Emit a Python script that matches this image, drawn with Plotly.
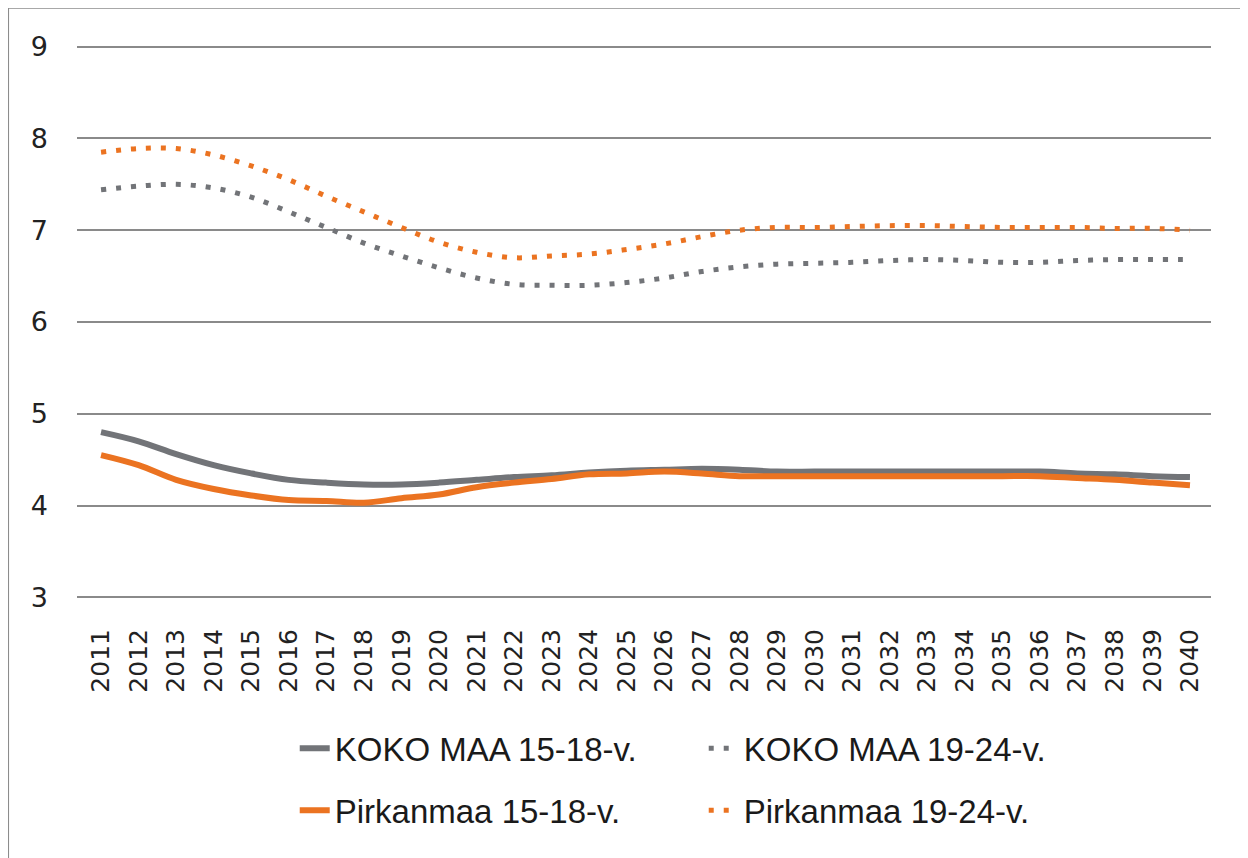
import plotly.graph_objects as go

years = [str(y) for y in range(2011, 2041)]

koko_15_18 = [4.80, 4.70, 4.56, 4.44, 4.35, 4.28, 4.25, 4.23, 4.23, 4.25,
              4.28, 4.31, 4.33, 4.36, 4.38, 4.39, 4.40, 4.39, 4.37, 4.37,
              4.37, 4.37, 4.37, 4.37, 4.37, 4.37, 4.35, 4.34, 4.32, 4.31]
koko_19_24 = [7.44, 7.48, 7.50, 7.46, 7.36, 7.20, 7.03, 6.86, 6.72, 6.59,
              6.48, 6.41, 6.40, 6.40, 6.43, 6.48, 6.55, 6.60, 6.63, 6.64,
              6.65, 6.67, 6.68, 6.67, 6.65, 6.65, 6.67, 6.68, 6.68, 6.68]
pirk_15_18 = [4.55, 4.44, 4.28, 4.18, 4.11, 4.06, 4.05, 4.03, 4.08, 4.12,
              4.20, 4.25, 4.29, 4.34, 4.35, 4.37, 4.35, 4.32, 4.32, 4.32,
              4.32, 4.32, 4.32, 4.32, 4.32, 4.32, 4.30, 4.28, 4.25, 4.22]
pirk_19_24 = [7.85, 7.89, 7.89, 7.82, 7.70, 7.55, 7.37, 7.20, 7.03, 6.87,
              6.76, 6.70, 6.72, 6.74, 6.79, 6.85, 6.93, 7.00, 7.03, 7.03,
              7.04, 7.05, 7.05, 7.04, 7.03, 7.03, 7.03, 7.02, 7.02, 7.00]

names = ["KOKO MAA 15-18-v.", "KOKO MAA 19-24-v.",
         "Pirkanmaa 15-18-v.", "Pirkanmaa 19-24-v."]

GRAY = "#727478"
ORANGE = "#EB7321"

fig = go.Figure()
fig.add_trace(go.Scatter(x=years, y=koko_15_18, name=names[0], mode="lines",
                         line=dict(color=GRAY, width=6, shape="spline"), legend="legend"))
fig.add_trace(go.Scatter(x=years, y=koko_19_24, name=names[1], mode="lines",
                         line=dict(color=GRAY, width=5, dash="5px,10px", shape="spline"), legend="legend"))
fig.add_trace(go.Scatter(x=years, y=pirk_15_18, name=names[2], mode="lines",
                         line=dict(color=ORANGE, width=6, shape="spline"), legend="legend2"))
fig.add_trace(go.Scatter(x=years, y=pirk_19_24, name=names[3], mode="lines",
                         line=dict(color=ORANGE, width=5, dash="5px,10px", shape="spline"), legend="legend2"))

legend_font = dict(family="Liberation Sans", size=33, color="#1a1a1a")
common_legend = dict(orientation="h", xanchor="left", yanchor="middle",
                     x=0.192, entrywidth=364, entrywidthmode="pixels",
                     font=legend_font, bgcolor="rgba(0,0,0,0)", traceorder="normal")

fig.update_layout(
    width=1240, height=850,
    margin=dict(l=69, r=37, t=35, b=257),
    paper_bgcolor="white", plot_bgcolor="white",
    showlegend=True,
    legend=dict(y=-0.264, **common_legend),
    legend2=dict(y=-0.375, **common_legend),
    xaxis=dict(type="category", range=[-0.64, 29.56], tickangle=-90,
               showgrid=False, showline=False, ticks="", ticklabelstandoff=22,
               tickfont=dict(family="DejaVu Sans", size=25, color="#222222")),
    yaxis=dict(range=[2.96, 9.04], dtick=1, tick0=3, showgrid=True, gridcolor="#8a8a8a",
               gridwidth=2, zeroline=False, showline=False, ticks="",
               ticklabelstandoff=28,
               tickfont=dict(family="DejaVu Sans", size=27, color="#222222")),
    shapes=[dict(type="rect", xref="paper", yref="paper",
                 x0=-0.0608, x1=1.0317, y0=-0.5, y1=1.063,
                 line=dict(color="#8c8c8c", width=2), fillcolor="rgba(0,0,0,0)",
                 layer="below")],
)

fig.write_html("out.html")
